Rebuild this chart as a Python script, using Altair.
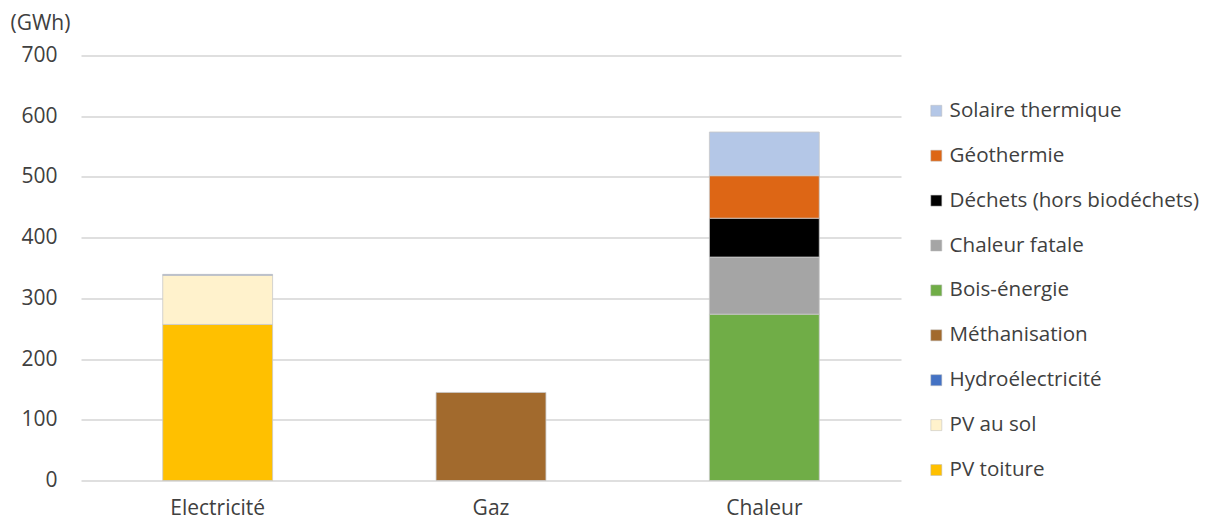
import altair as alt
import pandas as pd

categories = ["Electricité", "Electricité", "Electricité", "Gaz",
              "Chaleur", "Chaleur", "Chaleur", "Chaleur", "Chaleur"]
sources = ["PV toiture", "PV au sol", "Hydroélectricité", "Méthanisation",
           "Bois-énergie", "Chaleur fatale", "Déchets (hors biodéchets)",
           "Géothermie", "Solaire thermique"]
values = [257, 81, 1.5, 145, 274, 94, 64, 70, 72]

legend_order = ["Solaire thermique", "Géothermie", "Déchets (hors biodéchets)",
                "Chaleur fatale", "Bois-énergie", "Méthanisation",
                "Hydroélectricité", "PV au sol", "PV toiture"]
colors = ["#B4C7E7", "#DD6615", "#000000", "#A5A5A5", "#70AD47",
          "#A26A2D", "#4472C4", "#FFF2CC", "#FFC000"]
x_order = ["Electricité", "Gaz", "Chaleur"]

stack_order = list(reversed(legend_order))
df = pd.DataFrame({"cat": categories, "src": sources, "val": values})
df["ord"] = df["src"].map(lambda s: stack_order.index(s))

FONT = "Open Sans"
FS = 21

chart = alt.Chart(df).mark_bar(stroke="#C8C8C8", strokeWidth=0.8).encode(
    x=alt.X("cat:N", sort=x_order,
            scale=alt.Scale(paddingInner=0.598, paddingOuter=0.299),
            axis=alt.Axis(title=None, labelAngle=0, ticks=False, domain=False,
                          labelPadding=17, labelFontSize=FS, labelFont=FONT,
                          labelColor="#404040")),
    y=alt.Y("val:Q", stack="zero",
            scale=alt.Scale(domain=[0, 700], nice=False),
            axis=alt.Axis(title="(GWh)", titleAngle=0, titleX=-71, titleY=-32,
                          titleAlign="left", titleBaseline="middle",
                          titleFontWeight="normal",
                          titleFontSize=FS, titleFont=FONT, titleColor="#404040",
                          values=[0, 100, 200, 300, 400, 500, 600, 700],
                          ticks=False, domain=False, labelPadding=24,
                          labelFontSize=FS, labelFont=FONT, labelColor="#404040",
                          gridColor="#D4D4D4", gridWidth=1.5)),
    color=alt.Color("src:N", sort=legend_order,
                    scale=alt.Scale(domain=legend_order, range=colors),
                    legend=alt.Legend(title=None, orient="none", legendX=845,
                                      legendY=45, symbolType="square",
                                      symbolSize=121, symbolStrokeWidth=0.5,
                                      symbolStrokeColor="#BBBBBB",
                                      labelFontSize=20.6, labelFont=FONT,
                                      labelColor="#404040", rowPadding=23.9,
                                      labelOffset=3, labelLimit=400)),
    order=alt.Order("ord:Q"),
).properties(
    width=820, height=425,
    autosize=alt.AutoSizeParams(type="none"),
    padding={"left": 73, "top": 47.5, "right": 303, "bottom": 50},
).configure_view(stroke=None)

chart.save("out.html", embed_options={"renderer": "svg", "actions": False})
